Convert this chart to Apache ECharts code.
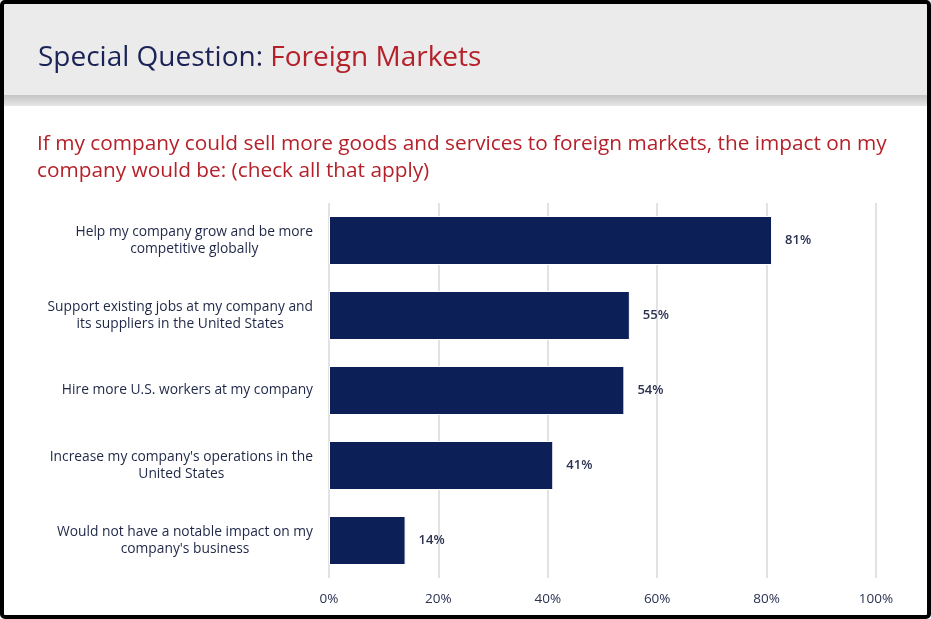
<!DOCTYPE html>
<html lang="en">
    <head>
        <meta charset="UTF-8" />
        <title>Foreign Markets</title>
        <script src="https://cdn.jsdelivr.net/npm/echarts@6/dist/echarts.min.js"></script>
    </head>

    <style>
        body {
            margin: 0;
            background: #fff;
        }
        #chart {
            position: absolute;
            left: 0;
            top: 0;
            width: 931px;
            height: 619px;
        }
        #frame {
            position: absolute;
            left: 0;
            top: 0;
            width: 931px;
            height: 619px;
            box-sizing: border-box;
            border: 4px solid #000;
            border-radius: 5px;
            pointer-events: none;
        }
    </style>

    <body>
        <div id="chart"></div>
        <div id="frame"></div>
    </body>
    <script>
        const categories = [
            "Help my company grow and be more\ncompetitive globally",
            "Support existing jobs at my company and\nits suppliers in the United States",
            "Hire more U.S. workers at my company",
            "Increase my company's operations in the\nUnited States",
            "Would not have a notable impact on my\ncompany's business",
        ];
        const values = [81, 55, 54, 41, 14];
        const ticks = [0, 20, 40, 60, 80, 100];

        const font = "'Open Sans', 'Noto Sans', sans-serif";
        const navy = "#0c1f56";
        const red = "#b5212a";

        let myChart = echarts.init(document.getElementById("chart"));
        let option = {
            animation: false,
            textStyle: { fontFamily: font },
            graphic: [
                {
                    type: "rect",
                    shape: { x: 0, y: 0, width: 931, height: 95 },
                    style: { fill: "#ebebeb" },
                    silent: true,
                },
                {
                    type: "rect",
                    shape: { x: 0, y: 95, width: 931, height: 11 },
                    style: {
                        fill: new echarts.graphic.LinearGradient(0, 0, 0, 1, [
                            { offset: 0, color: "#c4c4c4" },
                            { offset: 1, color: "#e6e6e6" },
                        ]),
                    },
                    silent: true,
                },
            ],
            title: [
                {
                    text: "{a|Special Question: }{b|Foreign Markets}",
                    left: 38,
                    top: 39,
                    padding: 0,
                    textStyle: {
                        fontWeight: "normal",
                        rich: {
                            a: { fontFamily: font, fontSize: 28, fontWeight: "normal", color: "#1b2356", lineHeight: 38 },
                            b: { fontFamily: font, fontSize: 28, fontWeight: "normal", color: red, lineHeight: 38 },
                        },
                    },
                },
                {
                    text: "If my company could sell more goods and services to foreign markets, the impact on my\ncompany would be: (check all that apply)",
                    left: 37,
                    top: 131,
                    padding: 0,
                    textStyle: {
                        fontFamily: font,
                        fontSize: 20.8,
                        fontWeight: "normal",
                        color: red,
                        lineHeight: 27,
                    },
                },
            ],
            grid: {
                left: 329,
                right: 55,
                top: 203,
                bottom: 41,
            },
            xAxis: {
                type: "value",
                min: 0,
                max: 100,
                interval: 20,
                axisLine: { show: false },
                axisTick: { show: false },
                splitLine: { lineStyle: { color: "#e2e2e2", width: 2 } },
                axisLabel: {
                    margin: 14,
                    color: "#2b3252",
                    fontSize: 13.5,
                    fontFamily: font,
                    formatter: (v) => (ticks.includes(v) ? v + "%" : ""),
                },
            },
            yAxis: {
                type: "category",
                inverse: true,
                data: categories,
                axisLine: { show: false },
                axisTick: { show: false },
                axisLabel: {
                    margin: 16,
                    align: "right",
                    formatter: (v) =>
                        v
                            .split("\n")
                            .map((s) => "{c|" + s + "}")
                            .join("\n"),
                    rich: {
                        c: {
                            align: "center",
                            fontFamily: font,
                            fontSize: 13.8,
                            lineHeight: 17,
                            color: "#1f2747",
                        },
                    },
                },
            },
            series: [
                {
                    type: "bar",
                    data: values,
                    barWidth: 49,
                    itemStyle: {
                        color: navy,
                        borderColor: "#ffffff",
                        borderWidth: 1,
                    },
                    label: {
                        show: true,
                        position: "right",
                        distance: 13,
                        formatter: "{c}%",
                        color: "#2b3252",
                        fontFamily: font,
                        fontSize: 13,
                        fontWeight: 600,
                    },
                },
            ],
        };

        option && myChart.setOption(option);
    </script>
</html>
